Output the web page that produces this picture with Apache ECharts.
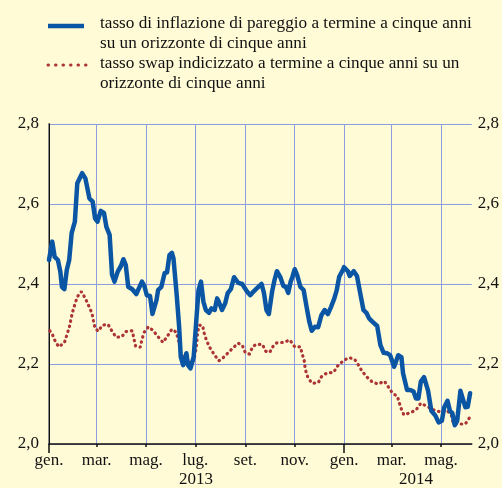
<!DOCTYPE html>
<html lang="it">
<head>
<meta charset="UTF-8">
<title>Tassi di inflazione a termine</title>
<script src="https://cdn.jsdelivr.net/npm/echarts@6/dist/echarts.min.js"></script>
<style>
  html, body { margin: 0; padding: 0; background: #fffbd7; }
  #chart { width: 502px; height: 488px; }
</style>
</head>
<body>
<div id="chart"></div>
<script>
  // giorni dal 1 gen. 2013, valore
  var breakeven = [
    [0,2.46],[1,2.464],[4,2.506],[7,2.468],[11,2.46],[14,2.431],[16,2.393],[19,2.387],[22,2.435],[25,2.46],
    [28,2.527],[32,2.556],[35,2.652],[41,2.677],[45,2.664],[50,2.614],[54,2.606],[57,2.564],[60,2.556],
    [64,2.583],[68,2.578],[71,2.543],[75,2.523],[78,2.423],[81,2.406],[85,2.431],[89,2.445],[92,2.462],
    [95,2.447],[98,2.393],[103,2.387],[108,2.375],[115,2.406],[118,2.395],[121,2.372],[125,2.37],[128,2.325],
    [130,2.32],[133,2.36],[135,2.385],[139,2.393],[143,2.427],[146,2.429],[149,2.472],[152,2.478],[154,2.464],
    [158,2.372],[161,2.293],[163,2.218],[166,2.197],[170,2.227],[172,2.197],[175,2.189],[179,2.218],[182,2.302],
    [185,2.385],[188,2.406],[191,2.356],[194,2.335],[198,2.328],[201,2.339],[205,2.335],[208,2.364],[210,2.356],
    [214,2.335],[218,2.352],[221,2.377],[225,2.387],[229,2.417],[234,2.403],[239,2.4],[245,2.381],[249,2.372],
    [253,2.381],[257,2.389],[263,2.4],[266,2.377],[269,2.335],[272,2.325],[276,2.381],[279,2.41],[282,2.432],
    [286,2.418],[290,2.395],[293,2.393],[296,2.378],[299,2.406],[301,2.417],[304,2.437],[307,2.422],[311,2.393],
    [315,2.385],[319,2.339],[322,2.306],[325,2.283],[329,2.293],[333,2.292],[337,2.322],[341,2.335],[345,2.325],
    [349,2.343],[353,2.364],[356,2.385],[359,2.418],[363,2.433],[365,2.442],[370,2.431],[372,2.42],[377,2.432],
    [381,2.42],[385,2.377],[389,2.335],[393,2.327],[396,2.314],[400,2.306],[406,2.295],[410,2.247],[414,2.228],
    [418,2.227],[422,2.222],[427,2.193],[432,2.222],[436,2.217],[438,2.177],[443,2.135],[447,2.135],[451,2.131],
    [454,2.114],[457,2.114],[460,2.156],[464,2.167],[469,2.133],[473,2.083],[478,2.071],[482,2.054],[486,2.058],
    [489,2.092],[493,2.108],[496,2.083],[499,2.077],[502,2.047],[505,2.058],[509,2.133],[511,2.133],[515,2.092],
    [518,2.093],[521,2.127]
  ];
  var swap = [
    [1,2.283],[4,2.275],[7,2.26],[12,2.243],[19,2.253],[22,2.272],[25,2.291],[27,2.31],[29,2.329],[32,2.349],
    [35,2.368],[40,2.381],[45,2.364],[49,2.346],[53,2.328],[55,2.308],[57,2.289],[61,2.282],[66,2.297],[73,2.299],
    [78,2.282],[83,2.267],[90,2.268],[95,2.281],[103,2.283],[105,2.264],[107,2.245],[113,2.242],[115,2.262],
    [118,2.28],[123,2.293],[129,2.283],[135,2.268],[141,2.254],[146,2.268],[152,2.287],[157,2.28],[160,2.262],
    [162,2.242],[163,2.222],[170,2.214],[177,2.2],[180,2.218],[182,2.239],[183,2.258],[184,2.281],[186,2.297],
    [190,2.296],[192,2.277],[195,2.258],[199,2.241],[204,2.225],[210,2.208],[215,2.215],[221,2.227],[227,2.239],
    [234,2.252],[239,2.247],[243,2.228],[248,2.225],[252,2.243],[256,2.249],[264,2.249],[268,2.232],[273,2.229],
    [278,2.247],[282,2.253],[290,2.254],[298,2.26],[304,2.243],[311,2.243],[313,2.227],[316,2.206],[317,2.187],
    [320,2.168],[325,2.152],[333,2.153],[337,2.168],[344,2.178],[352,2.179],[357,2.195],[364,2.208],[371,2.216],
    [378,2.212],[382,2.2],[387,2.183],[393,2.168],[400,2.155],[407,2.15],[415,2.157],[420,2.142],[425,2.127],
    [431,2.119],[435,2.092],[439,2.073],[447,2.078],[454,2.085],[460,2.102],[467,2.095],[475,2.086],[484,2.08],
    [492,2.085],[498,2.071],[500,2.052],[506,2.05],[515,2.05],[520,2.065]
  ];
  var monthNames = ['gen.', 'mar.', 'mag.', 'lug.', 'set.', 'nov.', 'gen.', 'mar.', 'mag.'];
  var yearNames = ['2013', '2014'];
  var yearLabelDays = [182, 454];
  var yearStartDays = [0, 365];
  var lastDay = 523;

  var DAY = 86400000;
  var monthDays = monthNames.map(function (n, i) {
    return Math.round((Date.UTC(2013, i * 2, 1) - Date.UTC(2013, 0, 1)) / DAY);
  });

  var font = 'Liberation Serif';
  var blue = '#0a56a5';
  var red = '#ad3434';
  var gridBlue = '#8c9de0';
  function fmt(v) { return v.toFixed(1).replace('.', ','); }

  var myChart = echarts.init(document.getElementById('chart'));
  var option = {
    backgroundColor: '#fffbd7',
    animation: false,
    grid: { left: 49, right: 30, top: 124, bottom: 44 },
    xAxis: [{
      type: 'value', min: 0, max: lastDay, position: 'bottom',
      axisLine: { lineStyle: { color: '#111', width: 1.5 } },
      axisTick: { customValues: monthDays, length: 3, lineStyle: { color: '#111', width: 1.5 } },
      axisLabel: {
        customValues: monthDays, margin: 8,
        color: '#111', fontFamily: font, fontSize: 17,
        formatter: function (v) { return monthNames[monthDays.indexOf(v)]; }
      },
      splitLine: { show: true, lineStyle: { color: gridBlue, width: 1 } }
    }, {
      type: 'value', min: 0, max: lastDay, position: 'bottom', offset: 0,
      axisLine: { show: false },
      axisTick: { customValues: yearStartDays, length: 9, lineStyle: { color: '#111', width: 1.5 } },
      axisLabel: {
        customValues: yearLabelDays, margin: 27,
        color: '#111', fontFamily: font, fontSize: 17,
        formatter: function (v) { return yearNames[yearLabelDays.indexOf(v)]; }
      },
      splitLine: { show: false }
    }],
    yAxis: [{
      type: 'value', min: 2.0, max: 2.8, interval: 0.2, position: 'left',
      axisLine: { show: true, lineStyle: { color: '#8a8a8a', width: 2 } },
      axisTick: { show: false },
      axisLabel: { margin: 10, color: '#111', fontFamily: font, fontSize: 17, formatter: fmt },
      splitLine: { show: true, lineStyle: { color: gridBlue, width: 1 } }
    }, {
      type: 'value', min: 2.0, max: 2.8, interval: 0.2, position: 'right',
      axisLine: { show: true, lineStyle: { color: '#111', width: 1 } },
      axisTick: { show: false },
      axisLabel: { margin: 6, color: '#111', fontFamily: font, fontSize: 17, formatter: fmt },
      splitLine: { show: false }
    }],
    graphic: [
      { type: 'line', shape: { x1: 48, y1: 26, x2: 84, y2: 26 }, style: { stroke: blue, lineWidth: 4.5 } },
      { type: 'line', shape: { x1: 48, y1: 65, x2: 86, y2: 65 },
        style: { stroke: red, lineWidth: 3, lineDash: [0.5, 7], lineCap: 'round' } },
      { type: 'text', left: 100, top: 13, style: {
          text: 'tasso di inflazione di pareggio a termine a cinque anni\nsu un orizzonte di cinque anni',
          font: '17.2px "Liberation Serif"', fill: '#111', lineHeight: 20 } },
      { type: 'text', left: 100, top: 53, style: {
          text: 'tasso swap indicizzato a termine a cinque anni su un\norizzonte di cinque anni',
          font: '17.2px "Liberation Serif"', fill: '#111', lineHeight: 20 } }
    ],
    series: [{
      name: 'swap', type: 'line', data: swap, symbol: 'none',
      lineStyle: { color: red, width: 3.2, type: [0.5, 4.8], cap: 'round' }
    }, {
      name: 'breakeven', type: 'line', data: breakeven, symbol: 'none',
      lineStyle: { color: blue, width: 4.5, join: 'round', cap: 'round' }
    }]
  };
  myChart.setOption(option);
</script>
</body>
</html>
